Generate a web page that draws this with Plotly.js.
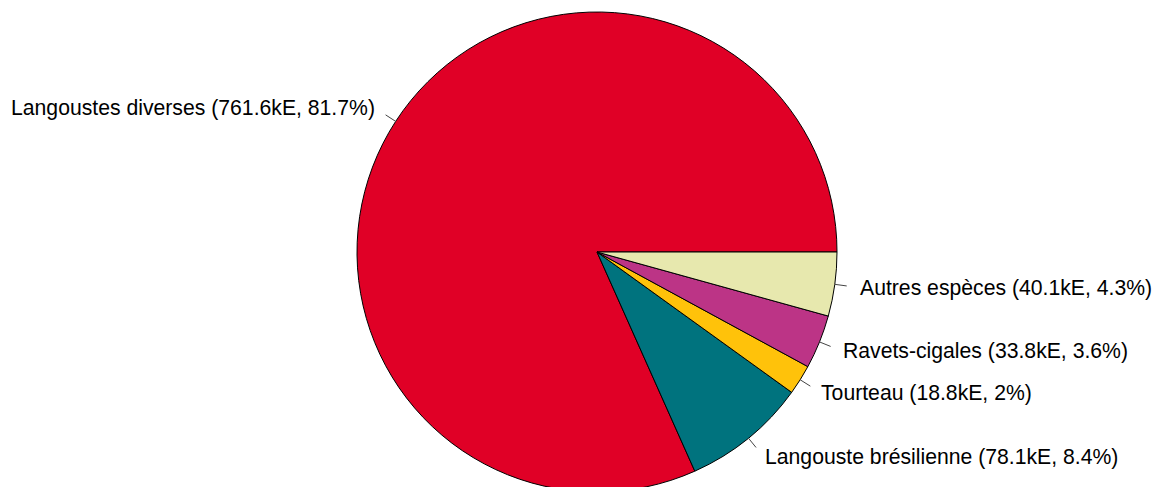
<!DOCTYPE html>
<html>
<head>
<meta charset="utf-8">
<script src="https://cdn.plot.ly/plotly-3.0.1.min.js"></script>
<style>
html,body{margin:0;padding:0;overflow:hidden;background:#fff;}
#chart{width:1159px;height:504px;}
</style>
</head>
<body>
<div id="chart"></div>
<script>
// Data
const categories = ["Langoustes diverses", "Langouste brésilienne", "Tourteau", "Ravets-cigales", "Autres espèces"];
const valuesKE = [761.6, 78.1, 18.8, 33.8, 40.1];
const colors = ["#E00026", "#00737E", "#FFC20A", "#BC3486", "#E7E8AE"];

// Layout constants (pixels)
const W = 1159, H = 504, CX = 597, CY = 252, R = 240;
const FONT = "Liberation Sans, Arial, sans-serif";
const FSIZE = 21.2;

const total = valuesKE.reduce((a, b) => a + b, 0);
const labels = categories.map((c, i) => {
  const pct = Number((valuesKE[i] / total * 100).toFixed(1));
  return c + " (" + valuesKE[i] + "kE, " + pct + "%)";
});

const px = x => x / W;
const py = y => 1 - y / H;

const annotations = [];
const shapes = [];
let cum = 0;
valuesKE.forEach((v, i) => {
  const mid = (cum + v / 2) / total * 2 * Math.PI; // counterclockwise from 3 o'clock
  cum += v;
  const c = Math.cos(mid), s = Math.sin(mid);
  shapes.push({
    type: "line", xref: "paper", yref: "paper",
    x0: px(CX + R * c), y0: py(CY - R * s),
    x1: px(CX + 1.05 * R * c), y1: py(CY - 1.05 * R * s),
    line: {color: "#444444", width: 1}
  });
  annotations.push({
    xref: "paper", yref: "paper",
    x: px(CX + 1.1 * R * c), y: py(CY - 1.1 * R * s),
    text: labels[i], showarrow: false, borderpad: 0,
    xanchor: c >= 0 ? "left" : "right", yanchor: "middle",
    font: {family: FONT, size: FSIZE, color: "#000000"}
  });
});

// Plotly's counterclockwise mode places the first slice clockwise of the rotation angle;
// shift so the first slice starts at 3 o'clock and runs counterclockwise (as in R's pie).
const rotation = 90 - valuesKE[0] / total * 360;

const trace = {
  type: "pie",
  labels: categories,
  values: valuesKE,
  sort: false,
  direction: "counterclockwise",
  rotation: rotation,
  textinfo: "none",
  hoverinfo: "none",
  marker: {colors: colors, line: {color: "#000000", width: 1}},
  domain: {x: [px(CX - R), px(CX + R)], y: [py(CY + R), py(CY - R)]}
};

const layout = {
  width: W, height: H,
  margin: {l: 0, r: 0, t: 0, b: 0},
  showlegend: false,
  paper_bgcolor: "#ffffff",
  annotations: annotations,
  shapes: shapes
};

Plotly.newPlot("chart", [trace], layout, {displayModeBar: false, staticPlot: true});
</script>
</body>
</html>
